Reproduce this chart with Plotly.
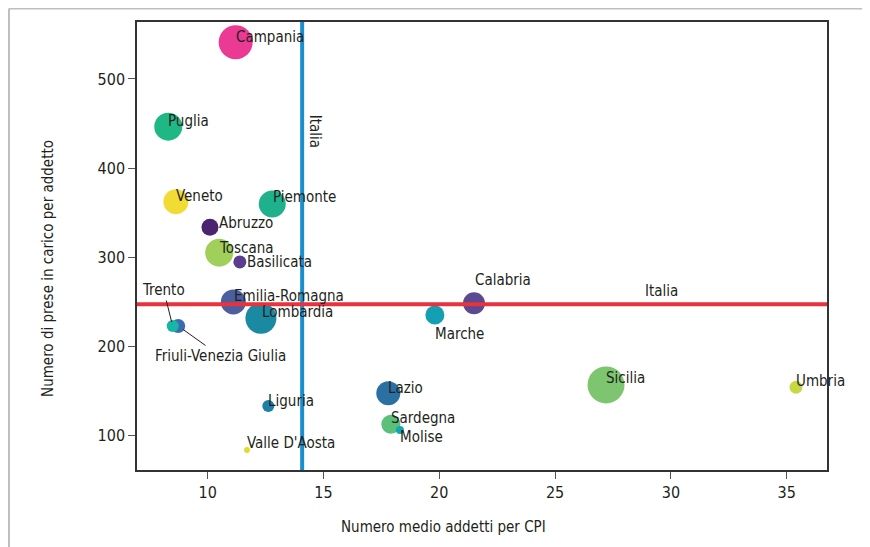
import plotly.graph_objects as go

# ---- data ----
regioni = ["Sicilia", "Campania", "Lombardia", "Puglia", "Toscana", "Piemonte",
           "Veneto", "Emilia-Romagna", "Lazio", "Calabria", "Marche", "Sardegna",
           "Abruzzo", "Friuli-Venezia Giulia", "Basilicata", "Umbria", "Trento",
           "Liguria", "Molise", "Valle D'Aosta"]
addetti_per_cpi = [27.20, 11.21, 12.30, 8.30, 10.50, 12.79,
                   8.63, 11.11, 17.80, 21.50, 19.81, 17.91,
                   10.10, 8.73, 11.39, 35.40, 8.49,
                   12.62, 18.30, 11.70]
prese_per_addetto = [156.9, 541.2, 231.7, 446.5, 305.2, 359.8,
                     362.4, 250.0, 147.5, 248.5, 235.4, 112.8,
                     333.7, 223.0, 294.8, 154.3, 223.0,
                     133.3, 106.4, 84.0]
dimensione = [37, 34, 31, 28, 28, 27,
              25, 25, 24, 22, 19, 19,
              17, 14, 13, 13, 12,
              12, 8, 6]
colori = ["#7dc66f", "#ea3a94", "#1a8aa3", "#1fb884", "#a0cf5a", "#1fb18b",
          "#f1dc36", "#4b5ea0", "#2b70a3", "#5b4a8f", "#12a0b2", "#5cc07a",
          "#4a2371", "#3c6cb0", "#5a3d8c", "#c8d844", "#17b6a5",
          "#1e80a6", "#10a9b3", "#e2dc2c"]
italia_x = 14.08
italia_y = 247.4

x_ticks = [10, 15, 20, 25, 30, 35]
y_ticks = [100, 200, 300, 400, 500]

# label offsets (pixels) relative to bubble centre
label_dx = {"Abruzzo": 9, "Basilicata": 7, "Piemonte": 1, "Calabria": 1,
            "Emilia-Romagna": 1, "Lombardia": 1}
label_dy = {"Campania": 5, "Puglia": 6, "Veneto": 6, "Piemonte": 7, "Abruzzo": 4,
            "Toscana": 5, "Basilicata": 0, "Emilia-Romagna": 6, "Lombardia": 6,
            "Marche": -19, "Calabria": 23, "Lazio": 5, "Sardegna": 6, "Molise": -7,
            "Sicilia": 7, "Umbria": 6, "Liguria": 5, "Valle D'Aosta": 7}

FONT = "Liberation Sans Narrow, Arial Narrow, DejaVu Sans Condensed, sans-serif"
TXT = "#231f20"
FS = 15

fig = go.Figure()
fig.add_trace(go.Scatter(
    x=addetti_per_cpi, y=prese_per_addetto, mode="markers",
    marker=dict(size=dimensione, sizemode="diameter", color=colori, opacity=1,
                line=dict(width=0)),
    text=regioni, hoverinfo="text", showlegend=False))

shapes = [
    dict(type="line", xref="x", yref="paper", x0=italia_x, x1=italia_x, y0=0, y1=1,
         line=dict(color="#1a8fd0", width=4)),
    dict(type="line", xref="paper", yref="y", x0=0, x1=1, y0=italia_y, y1=italia_y,
         line=dict(color="#e8323c", width=4)),
    # outer page border (top and left)
    dict(type="line", xref="paper", yref="paper", x0=-0.1855, x1=1.07, y0=1.0301, y1=1.0301,
         line=dict(color="#bfbfbf", width=2)),
    dict(type="line", xref="paper", yref="paper", x0=-0.1855, x1=-0.1855, y0=1.0301, y1=-0.18,
         line=dict(color="#bfbfbf", width=2)),
]

annotations = []
for name, xv, yv in zip(regioni, addetti_per_cpi, prese_per_addetto):
    if name == "Trento":
        annotations.append(dict(x=xv, y=yv, text=name, showarrow=True, ax=-9, ay=-36,
                                arrowhead=0, arrowwidth=1, arrowcolor=TXT, standoff=4,
                                font=dict(family=FONT, size=FS, color=TXT)))
    elif name == "Friuli-Venezia Giulia":
        annotations.append(dict(x=xv, y=yv, text=name, showarrow=True, ax=42, ay=30,
                                arrowhead=0, arrowwidth=1, arrowcolor=TXT, standoff=6,
                                font=dict(family=FONT, size=FS, color=TXT)))
    else:
        annotations.append(dict(x=xv, y=yv, text=name, showarrow=False,
                                xanchor="left", yanchor="middle",
                                xshift=label_dx.get(name, 0) - 2,
                                yshift=label_dy.get(name, 0),
                                font=dict(family=FONT, size=FS, color=TXT)))

annotations += [
    dict(x=italia_x, y=0.757, xref="x", yref="paper", text="Italia", showarrow=False,
         textangle=90, xanchor="left", yanchor="middle", xshift=2,
         font=dict(family=FONT, size=FS, color=TXT)),
    dict(x=29.6, y=italia_y, xref="x", yref="y", text="Italia", showarrow=False,
         xanchor="center", yanchor="bottom", yshift=2,
         font=dict(family=FONT, size=FS, color=TXT)),
    dict(x=0.444, y=-0.127, xref="paper", yref="paper", text="Numero medio addetti per CPI",
         showarrow=False, xanchor="center", yanchor="middle",
         font=dict(family=FONT, size=FS, color=TXT)),
    dict(x=-0.129, y=0.451, xref="paper", yref="paper",
         text="Numero di prese in carico per addetto", textangle=-90,
         showarrow=False, xanchor="center", yanchor="middle",
         font=dict(family=FONT, size=FS, color=TXT)),
]

axis_common = dict(showgrid=False, zeroline=False, showline=True, linecolor="#333333",
                   linewidth=1.5, mirror=True, ticks="outside", ticklen=7,
                   tickcolor="#555555", tickwidth=1.3,
                   tickfont=dict(family=FONT, size=16, color=TXT))

fig.update_layout(
    width=862, height=539,
    margin=dict(l=129, r=43, t=14, b=77),
    paper_bgcolor="white", plot_bgcolor="white",
    xaxis=dict(range=[6.95, 36.74], tickvals=x_ticks, **axis_common),
    yaxis=dict(range=[61.5, 563.9], tickvals=y_ticks, **axis_common),
    shapes=shapes, annotations=annotations,
)

fig.write_html("out.html")
